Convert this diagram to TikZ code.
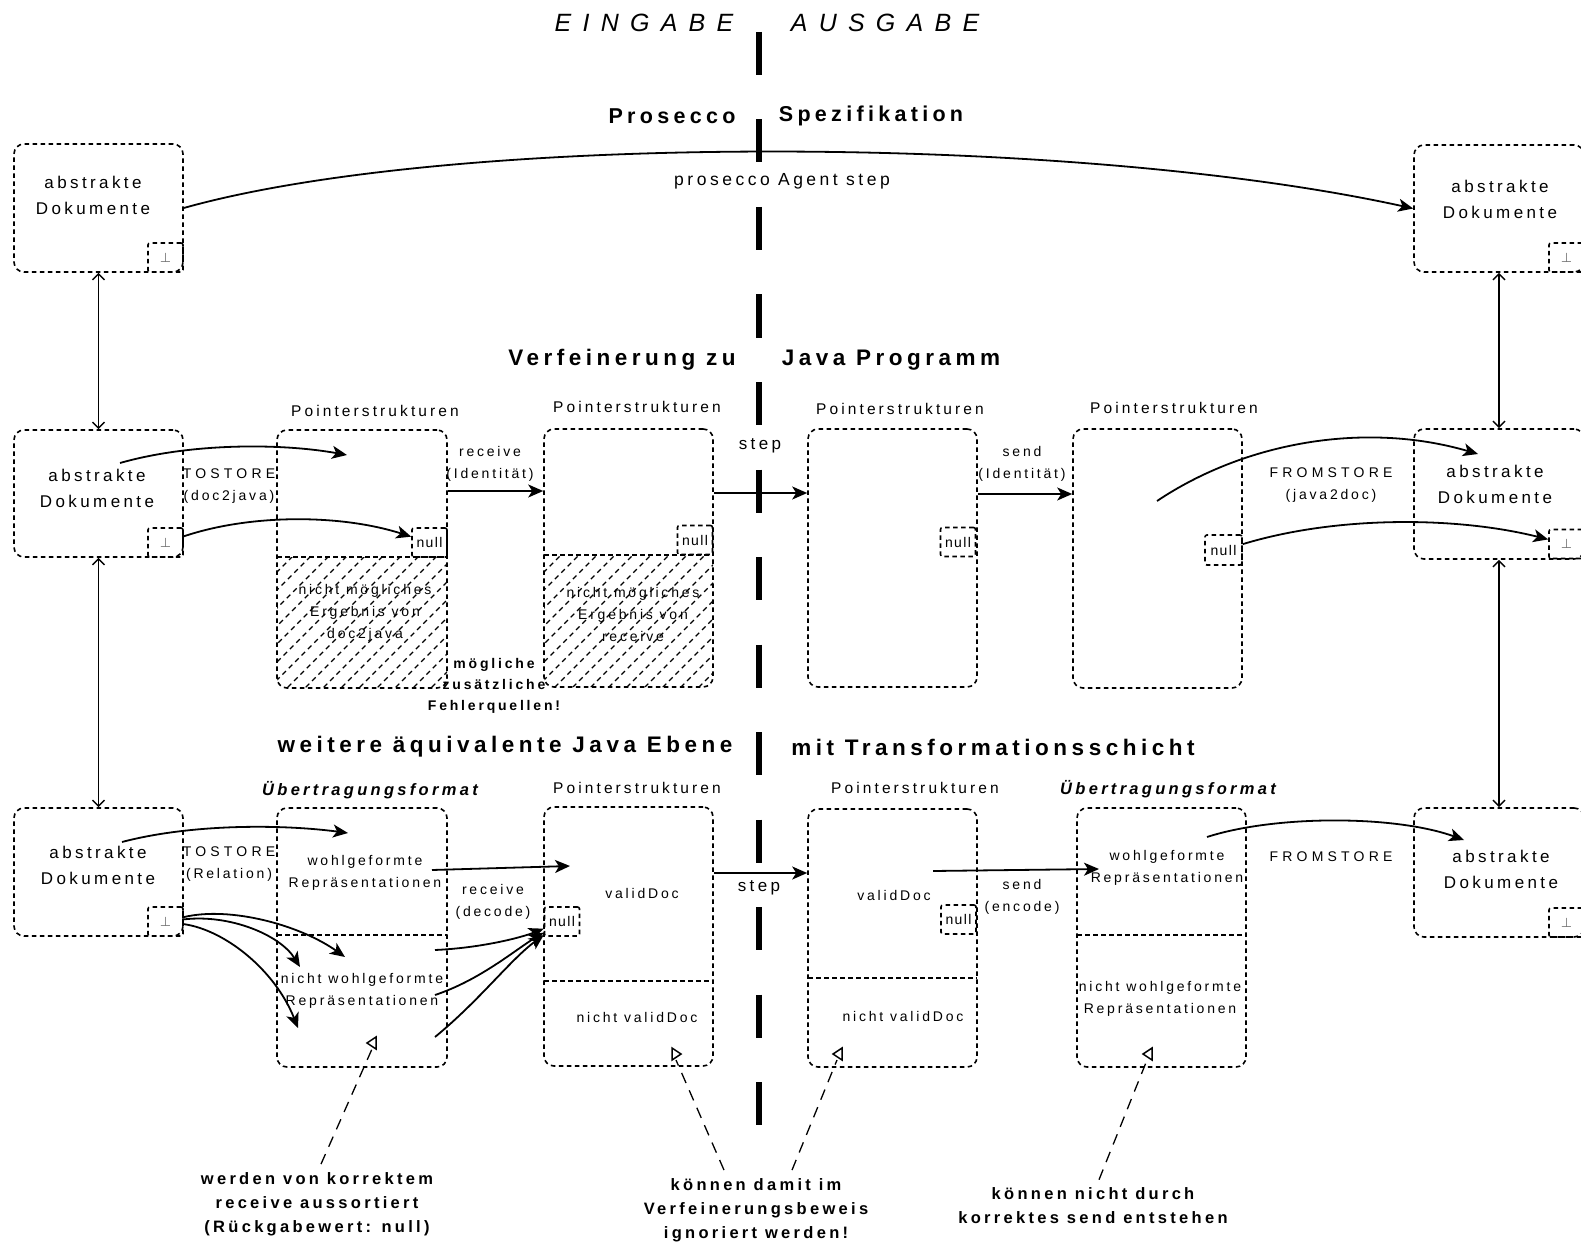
\documentclass[tikz,border=0pt]{standalone}
\usepackage{fontspec}
\setmainfont{Liberation Sans}[LetterSpace=20]
\newfontfamily\symfont{DejaVu Sans}
\usetikzlibrary{arrows.meta}

\tikzset{
  x=1pt, y=-1pt,
  dashpat/.style={dash pattern=on 4.5pt off 3.5pt},
  dbox/.style={draw, dashpat, line width=1.6pt, rounded corners=10pt, inner sep=0pt},
  slot/.style={draw, dashpat, line width=1.6pt, rounded corners=2pt, minimum width=35pt,
    minimum height=29pt, inner sep=0pt, font=\fontsize{14}{16}\selectfont\addfontfeatures{LetterSpace=10}},
  bot/.style={slot, text=black!55, font=\fontsize{13}{14}\symfont},
  divider/.style={dashpat, line width=1.6pt},
  hatch/.style={line width=1.3pt, dash pattern=on 5pt off 4pt},
  txt/.style={inner sep=0pt, align=center, font=\fontsize{17}{26}\selectfont},
  lbl/.style={inner sep=0pt, align=center, font=\fontsize{14}{22}\selectfont},
  caps/.style={inner sep=0pt, align=center, font=\fontsize{14}{22}\selectfont\addfontfeatures{LetterSpace=30}},
  ptr/.style={inner sep=0pt, font=\fontsize{15.5}{18}\selectfont},
  fmt/.style={inner sep=0pt, font=\fontsize{16.5}{18}\selectfont\bfseries\itshape},
  title/.style={inner sep=0pt, font=\fontsize{22.5}{26}\selectfont\bfseries},
  io/.style={inner sep=0pt, font=\fontsize{25}{28}\selectfont\itshape\addfontfeatures{LetterSpace=45}},
  remark/.style={inner sep=0pt, align=center, font=\fontsize{16.5}{24}\selectfont\bfseries},
  small/.style={inner sep=0pt, align=center, font=\fontsize{14}{21}\selectfont\bfseries},
  arr/.style={line width=1.8pt, -{Stealth[length=15pt,width=13pt,inset=4pt]}},
  link/.style={line width=1.5pt, {Straight Barb[length=6pt,width=12pt]}-{Straight Barb[length=6pt,width=12pt]}},
  note/.style={line width=1.3pt, dash pattern=on 11pt off 8pt},
  tri/.style={line width=1.5pt, line join=miter},
}

\begin{document}
\begin{tikzpicture}
\useasboundingbox (0,0) rectangle (1581,1246);

% separator between input and output side
\draw[line width=6.5pt, dash pattern=on 43pt off 44.5pt] (759,32) -- (759,1127);

% headings
\node[io] (ein) at (644,23) {EINGABE};
\node[io] (aus) at (885,23) {AUSGABE};
\node[title, font=\fontsize{21.5}{26}\selectfont\bfseries] (h1a) at (672,116) {Prosecco};
\node[title, font=\fontsize{21.5}{26}\selectfont\bfseries] (h1b) at (871,116) {Spezifikation};
\node[title] (h2a) at (622,360) {Verfeinerung zu};
\node[title] (h2b) at (891,360) {Java Programm};
\node[title] (h3a) at (505,747) {weitere äquivalente Java Ebene};
\node[title] (h3b) at (993,747) {mit Transformationsschicht};

% ---------- level 1: specification ----------
\node[dbox, minimum width=169pt, minimum height=128pt] (r1l) at (98.5,208) {};
\node[txt] at (93,195) {abstrakte\\Dokumente};
\node[bot] (r1lb) at (165.5,257.5) {⊥};

\node[dbox, minimum width=170pt, minimum height=127pt] (r1r) at (1499,208.5) {};
\node[txt] at (1500,199) {abstrakte\\Dokumente};
\node[bot] (r1rb) at (1566.5,257.5) {⊥};

\draw[arr] (r1l.east) .. controls (450,133) and (1070,133) .. (r1r.west);
\node[txt, font=\fontsize{17.5}{20}\selectfont] (agent) at (782,181) {prosecco Agent step};

% ---------- level 2: Java program ----------
\node[dbox, minimum width=169pt, minimum height=127pt] (r2l) at (98.5,493.5) {};
\node[txt] at (97,488) {abstrakte\\Dokumente};
\node[bot] (r2lb) at (165.5,542.5) {⊥};

% hatched area: results that doc2java cannot produce
\begin{scope}
  \clip (277,557) -- (447,557) [rounded corners=10pt]-- (447,688) -- (277,688) [sharp corners]-- cycle;
  \foreach \k in {0,...,18} \draw[hatch] ({95+\k*18},700) -- ++(160,-160);
\end{scope}
\node[dbox, minimum width=170pt, minimum height=258pt] (p1) at (362,559) {};
\draw[divider] (277,557) -- (447,557);
\node[slot] (p1n) at (429.5,542.5) {null};
\node[ptr] at (375,411) {Pointerstrukturen};
\node[lbl] at (365,613) {nicht mögliches\\Ergebnis von\\doc2java};

% hatched area: results that receive cannot produce
\begin{scope}
  \clip (544,555) -- (713,555) [rounded corners=10pt]-- (713,687) -- (544,687) [sharp corners]-- cycle;
  \foreach \k in {0,...,18} \draw[hatch] ({362+\k*18},700) -- ++(160,-160);
\end{scope}
\node[dbox, minimum width=169pt, minimum height=258pt] (p2) at (628.5,558) {};
\draw[divider] (544,555) -- (713,555);
\node[slot] (p2n) at (695,540) {null};
\node[ptr] at (637,407) {Pointerstrukturen};
\node[lbl] at (633,614) {nicht mögliches\\Ergebnis von\\receive};

\node[dbox, minimum width=169pt, minimum height=258pt] (p3) at (892.5,558) {};
\node[slot] (p3n) at (958,542) {null};
\node[ptr] at (900,409) {Pointerstrukturen};

\node[dbox, minimum width=169pt, minimum height=259pt] (p4) at (1157.5,558.5) {};
\node[slot, minimum width=37pt, minimum height=30pt] (p4n) at (1223.5,550) {null};
\node[ptr] at (1174,408) {Pointerstrukturen};

\node[dbox, minimum width=170pt, minimum height=130pt] (r2r) at (1499,494) {};
\node[txt] at (1495,484) {abstrakte\\Dokumente};
\node[bot] (r2rb) at (1566.5,544) {⊥};

\node[caps] at (229,486) {TOSTORE\\\addfontfeatures{LetterSpace=20}(doc2java)};
\node[lbl] at (490,464) {receive\\(Identität)};
\node[txt] at (760,446) {step};
\node[lbl] at (1022,464) {send\\(Identität)};
\node[caps] at (1331,485) {FROMSTORE\\\addfontfeatures{LetterSpace=20}(java2doc)};
\node[small] at (494,686) {mögliche\\zusätzliche\\Fehlerquellen!};

\coordinate (t2s) at (120,463);
\coordinate (t2e) at (347,455);
\draw[arr] (t2s) .. controls (190,443) and (280,443) .. (t2e);
\draw[arr] (r2lb) .. controls (250,514) and (340,514) .. (p1n);
\draw[arr] (p1.east |- 0,491) -- (p2.west |- 0,491);
\draw[arr] (p2.east |- 0,493) -- (p3.west |- 0,493);
\draw[arr] (p3.east |- 0,494) -- (p4.west |- 0,494);
\coordinate (f2s) at (1157,501);
\coordinate (f2e) at (1478,454);
\draw[arr] (f2s) .. controls (1245,442) and (1365,421) .. (f2e);
\draw[arr] (p4n) .. controls (1335,516) and (1455,516) .. (r2rb);

% ---------- level 3: with transformation layer ----------
\node[dbox, minimum width=169pt, minimum height=128pt] (r3l) at (98.5,872) {};
\node[txt] at (98,865) {abstrakte\\Dokumente};
\node[bot] (r3lb) at (165.5,921.5) {⊥};

\node[dbox, minimum width=170pt, minimum height=259pt] (u1) at (362,937.5) {};
\draw[divider] (277,935) -- (447,935);
\node[fmt] at (370,790) {Übertragungsformat};
\node[lbl] at (365,873) {wohlgeformte\\Repräsentationen};
\node[lbl] at (362,991) {nicht wohlgeformte\\Repräsentationen};

\node[dbox, minimum width=169pt, minimum height=259pt] (q2) at (628.5,936.5) {};
\draw[divider] (544,981) -- (713,981);
\node[slot] (q2n) at (562,921.5) {null};
\node[ptr] at (637,788) {Pointerstrukturen};
\node[lbl] at (642,893) {validDoc};
\node[lbl] at (637,1017) {nicht validDoc};

\node[dbox, minimum width=169pt, minimum height=258pt] (q3) at (892.5,938) {};
\draw[divider] (808,978) -- (977,978);
\node[slot] (q3n) at (958.5,919.5) {null};
\node[ptr] at (915,788) {Pointerstrukturen};
\node[lbl] at (894,895) {validDoc};
\node[lbl] at (903,1016) {nicht validDoc};

\node[dbox, minimum width=169pt, minimum height=259pt] (u4) at (1161.5,937.5) {};
\draw[divider] (1077,935) -- (1246,935);
\node[fmt] at (1168,789) {Übertragungsformat};
\node[lbl] at (1167,868) {wohlgeformte\\Repräsentationen};
\node[lbl] at (1160,999) {nicht wohlgeformte\\Repräsentationen};

\node[dbox, minimum width=170pt, minimum height=129pt] (r3r) at (1499,872.5) {};
\node[txt] at (1501,869) {abstrakte\\Dokumente};
\node[bot] (r3rb) at (1566.5,922.5) {⊥};

\node[caps] at (229,864) {TOSTORE\\\addfontfeatures{LetterSpace=20}(Relation)};
\node[lbl] at (493,902) {receive\\(decode)};
\node[txt] at (759,888) {step};
\node[lbl] at (1022,897) {send\\(encode)};
\node[caps] at (1331,857) {FROMSTORE};

\coordinate (t3s) at (122,842);
\coordinate (t3e) at (348,833);
\draw[arr] (t3s) .. controls (190,824) and (280,824) .. (t3e);
\coordinate (bad1) at (345,957);
\coordinate (bad2) at (300,967);
\coordinate (bad3) at (298,1028);
\draw[arr] (r3lb) .. controls (230,906) and (300,925) .. (bad1);
\draw[arr] (r3lb) .. controls (230,914) and (280,935) .. (bad2);
\draw[arr] (r3lb) .. controls (225,930) and (275,970) .. (bad3);

\coordinate (wf) at (432,870);
\coordinate (vd) at (570,866);
\draw[arr] (wf) -- (vd);
\coordinate (nw1) at (435,950);
\coordinate (nw2) at (435,995);
\coordinate (nw3) at (435,1037);
\draw[arr] (nw1) .. controls (480,948) and (520,938) .. (q2n);
\draw[arr] (nw2) .. controls (480,980) and (515,950) .. (q2n);
\draw[arr] (nw3) .. controls (480,1000) and (510,960) .. (q2n);

\draw[arr] (q2.east |- 0,873) -- (q3.west |- 0,873);
\coordinate (es) at (933,871);
\coordinate (ee) at (1099,869);
\draw[arr] (es) -- (ee);
\coordinate (f3s) at (1207,837);
\coordinate (f3e) at (1464,840);
\draw[arr] (f3s) .. controls (1275,815) and (1395,815) .. (f3e);

% links between the levels
\draw[link] (r1l.south) -- (r2l.north);
\draw[link] (r2l.south) -- (r3l.north);
\draw[link] (r1r.south) -- (r2r.north);
\draw[link] (r2r.south) -- (r3r.north);

% remarks
\node[remark] (c1) at (317,1204) {werden von korrektem\\receive aussortiert\\(Rückgabewert: null)};
\node[remark] (c2) at (756,1210) {können damit im\\Verfeinerungsbeweis\\ignoriert werden!};
\node[remark] (c3) at (1093,1206) {können nicht durch\\korrektes send entstehen};

\coordinate (m1) at (372,1049);
\coordinate (m2) at (676,1060);
\coordinate (m3) at (837,1060);
\coordinate (m4) at (1147,1060);
\draw[note] ([xshift=4pt,yshift=8pt]c1.north) -- (m1);
\draw[note] ([xshift=-32pt,yshift=8pt]c2.north) -- (m2);
\draw[note] ([xshift=36pt,yshift=8pt]c2.north) -- (m3);
\draw[note] ([xshift=6pt,yshift=8pt]c3.north) -- (m4);
\draw[tri] (367,1043) -- ++(9,-6) -- ++(0,12) -- cycle;
\draw[tri] (681,1054) -- ++(-9,-6) -- ++(0,12) -- cycle;
\draw[tri] (833,1054) -- ++(9,-6) -- ++(0,12) -- cycle;
\draw[tri] (1143,1054) -- ++(9,-6) -- ++(0,12) -- cycle;
\end{tikzpicture}
\end{document}
